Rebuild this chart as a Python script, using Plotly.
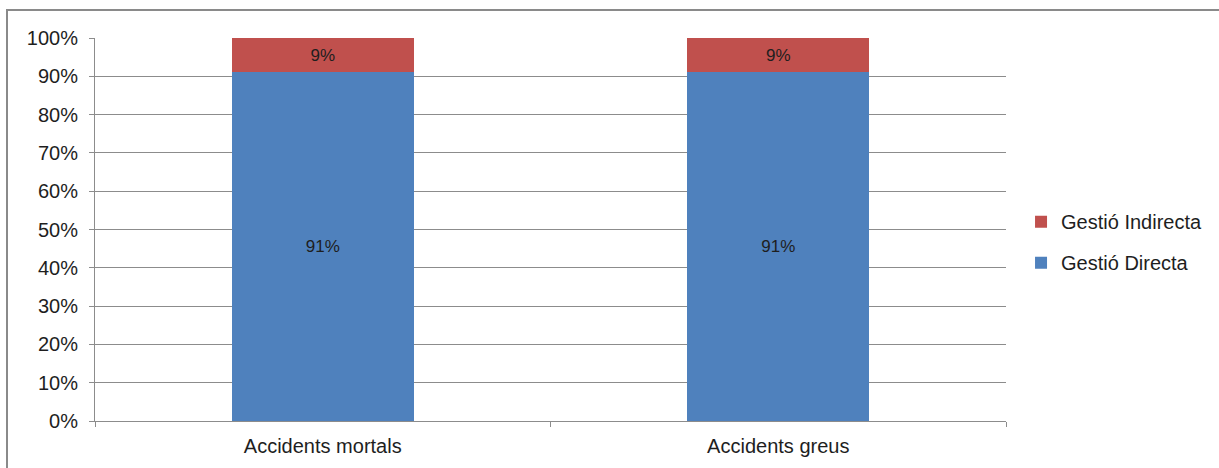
import plotly.graph_objects as go

categories = ["Accidents mortals", "Accidents greus"]
gestio_directa = [91, 91]
gestio_indirecta = [9, 9]

BLUE = "#4F81BD"
RED = "#C0504D"
GRID = "#8C8C8C"
TEXT = "#1E1E1E"
FONT = "Liberation Sans, Arial, sans-serif"

fig = go.Figure()
fig.add_trace(go.Bar(
    x=categories, y=gestio_directa, name="Gestió Directa",
    marker=dict(color=BLUE, line=dict(width=0)),
    text=[f"{v}%" for v in gestio_directa], textposition="inside",
    insidetextanchor="middle", textangle=0,
    textfont=dict(color=TEXT, size=17, family=FONT),
    legendgroup="d", legendrank=2,
))
fig.add_trace(go.Bar(
    x=categories, y=gestio_indirecta, name="Gestió Indirecta",
    marker=dict(color=RED, line=dict(width=0)),
    text=[f"{v}%" for v in gestio_indirecta], textposition="inside",
    insidetextanchor="middle", textangle=0,
    textfont=dict(color=TEXT, size=17, family=FONT),
    legendgroup="i", legendrank=1,
))

fig.update_layout(
    width=1219, height=468,
    barmode="stack", bargap=0.6,
    plot_bgcolor="white", paper_bgcolor="white",
    margin=dict(l=95, r=213, t=38, b=47),
    font=dict(family=FONT, size=20, color=TEXT),
    uniformtext=dict(mode=False),
    legend=dict(
        x=1.0165, xanchor="left", y=0.467, yanchor="middle",
        traceorder="grouped", tracegroupgap=12,
        font=dict(size=20, family=FONT, color=TEXT),
        itemwidth=30, bgcolor="rgba(0,0,0,0)",
    ),
    showlegend=True,
)
fig.update_yaxes(
    range=[0, 100], dtick=10, ticksuffix="%",
    showgrid=True, gridcolor=GRID, gridwidth=1,
    showline=True, linecolor=GRID, linewidth=1,
    ticks="outside", ticklen=5, tickcolor=GRID,
    zeroline=False, tickfont=dict(size=20, family=FONT, color=TEXT),
    ticklabelstandoff=7,
)
fig.update_xaxes(
    showline=True, linecolor=GRID, linewidth=1,
    ticks="outside", ticklen=5, tickcolor=GRID, tickson="boundaries",
    showgrid=False, tickfont=dict(size=20, family=FONT, color=TEXT),
    ticklabelstandoff=7,
)

# outer chart frame (extends past the right and bottom edges)
fig.add_shape(type="rect", xref="paper", yref="paper",
              x0=-88 / 911, x1=1.5, y0=-1.0, y1=1 + 28 / 383,
              line=dict(color="#8A8A8A", width=2), layer="below")

fig.write_html("out.html")
